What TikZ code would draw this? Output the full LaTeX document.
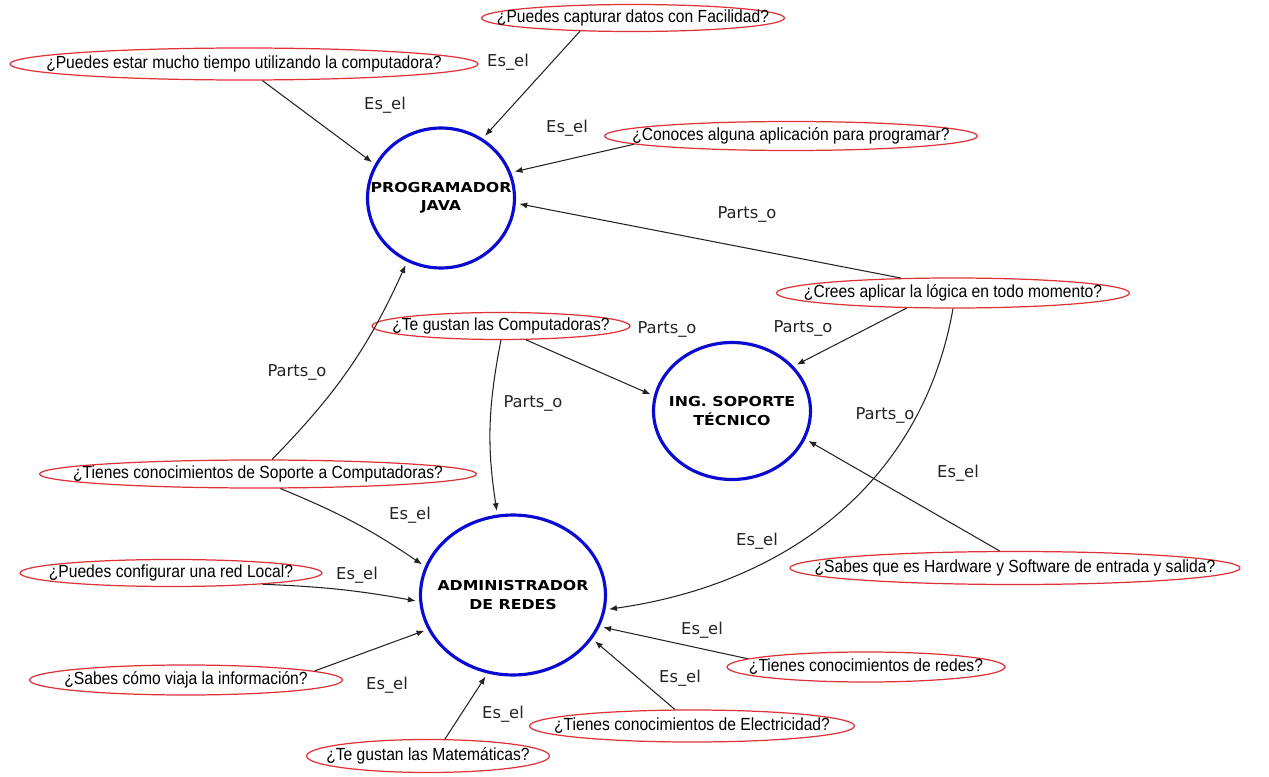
\documentclass[tikz,border=0pt]{standalone}
\usepackage{fontspec}
\setmainfont{Liberation Sans}
\newfontfamily\qfam{Liberation Sans}[FakeStretch=0.89]
\newfontfamily\boxfam{DejaVu Sans}[FakeStretch=1.15]
\newfontfamily\relfam{DejaVu Sans}
\usetikzlibrary{shapes.geometric,arrows.meta}
\definecolor{azul}{RGB}{10,10,210}
\definecolor{rojo}{RGB}{222,50,55}
\definecolor{linea}{RGB}{35,35,35}
\newcommand{\nw}[1]{\makebox[0pt]{#1}}
\tikzset{perfil/.style={ellipse, draw=azul, line width=1.8pt, inner sep=0pt, align=center, font=\boxfam\bfseries\fontsize{7.8}{10.4}\selectfont},
  pregunta/.style={ellipse, draw=rojo, line width=0.7pt, inner sep=0pt, font=\qfam\fontsize{10}{12}\selectfont},
  rel/.style={inner sep=1pt, text=linea, font=\relfam\fontsize{9.3}{11}\selectfont},
  liga/.style={draw=linea, line width=0.6pt, -{Latex[length=4.5pt,width=3.5pt]}, shorten >=2pt}}

\begin{document}
\begin{tikzpicture}[x=0.02cm,y=-0.02cm]
\useasboundingbox (0,0) rectangle (1269,777);

\node[perfil, minimum width=2.94cm, minimum height=2.8cm] (java) at (441,198) {\nw{PROGRAMADOR}\\\nw{JAVA}};
\node[perfil, minimum width=3.14cm, minimum height=2.74cm] (soporte) at (732,411) {\nw{ING. SOPORTE}\\\nw{TÉCNICO}};
\node[perfil, minimum width=3.7cm, minimum height=3.2cm] (redes) at (513,595) {\nw{ADMINISTRADOR}\\\nw{DE REDES}};

\node[pregunta, minimum width=6.06cm, minimum height=0.54cm] (q1) at (633,18) {\nw{¿Puedes capturar datos con Facilidad?}};
\node[pregunta, minimum width=9.36cm, minimum height=0.64cm] (q2) at (244,64) {\nw{¿Puedes estar mucho tiempo utilizando la computadora?}};
\node[pregunta, minimum width=7.46cm, minimum height=0.58cm] (q3) at (791,136) {\nw{¿Conoces alguna aplicación para programar?}};
\node[pregunta, minimum width=7.06cm, minimum height=0.6cm] (q4) at (953,293) {\nw{¿Crees aplicar la lógica en todo momento?}};
\node[pregunta, minimum width=5.16cm, minimum height=0.54cm] (q5) at (501,326) {\nw{¿Te gustan las Computadoras?}};
\node[pregunta, minimum width=8.74cm, minimum height=0.56cm] (q6) at (258,474) {\nw{¿Tienes conocimientos de Soporte a Computadoras?}};
\node[pregunta, minimum width=9.0cm, minimum height=0.66cm] (q7) at (1015,568) {\nw{¿Sabes que es Hardware y Software de entrada y salida?}};
\node[pregunta, minimum width=6.04cm, minimum height=0.54cm] (q8) at (171,573) {\nw{¿Puedes configurar una red Local?}};
\node[pregunta, minimum width=6.26cm, minimum height=0.6cm] (q9) at (186,680) {\nw{¿Sabes cómo viaja la información?}};
\node[pregunta, minimum width=5.56cm, minimum height=0.6cm] (q10) at (866,667) {\nw{¿Tienes conocimientos de redes?}};
\node[pregunta, minimum width=6.5cm, minimum height=0.64cm] (q11) at (692,726) {\nw{¿Tienes conocimientos de Electricidad?}};
\node[pregunta, minimum width=4.86cm, minimum height=0.66cm] (q12) at (428,756) {\nw{¿Te gustan las Matemáticas?}};

\draw[liga] (q2.-42) -- (java.153);
\draw[liga] (q1.-166) -- (java.55);
\draw[liga] (q3.-177) -- (java.20);
\draw[liga] (q4.164) -- (java.-4);
\draw[liga] (q4.-162) -- (soporte.36);
\draw[liga] (q4.south) to[out=-100,in=8] (redes.-9);
\draw[liga] (q5.-29) -- (soporte.169);
\draw[liga] (q5.south) to[bend right=10] (redes.101);
\draw[liga] (q6.46) to[bend right=10] (java.-118);
\draw[liga] (q6.-33) to[bend left=6] (redes.162);
\draw[liga] (q7.132) -- (soporte.-21);
\draw[liga] (q8.-7) to[bend left=4] (redes.184);
\draw[liga] (q9.4) -- (redes.202);
\draw[liga] (q12.45) -- (redes.-108);
\draw[liga] (q11.136) -- (redes.-29);
\draw[liga] (q10.176) -- (redes.-20);

\node[rel] (r1) at (385,105) {Es\_el};
\node[rel] (r2) at (508,62) {Es\_el};
\node[rel] (r3) at (567,128) {Es\_el};
\node[rel] (r4) at (747,214) {Parts\_o};
\node[rel] (r5) at (803,328) {Parts\_o};
\node[rel] (r6) at (667,329) {Parts\_o};
\node[rel] (r7) at (533,403) {Parts\_o};
\node[rel] (r8) at (297,372) {Parts\_o};
\node[rel] (r9) at (410,515) {Es\_el};
\node[rel] (r10) at (885,415) {Parts\_o};
\node[rel] (r11) at (958,473) {Es\_el};
\node[rel] (r12) at (757,541) {Es\_el};
\node[rel] (r13) at (357,575) {Es\_el};
\node[rel] (r14) at (387,685) {Es\_el};
\node[rel] (r15) at (503,714) {Es\_el};
\node[rel] (r16) at (680,678) {Es\_el};
\node[rel] (r17) at (702,630) {Es\_el};

\end{tikzpicture}
\end{document}
